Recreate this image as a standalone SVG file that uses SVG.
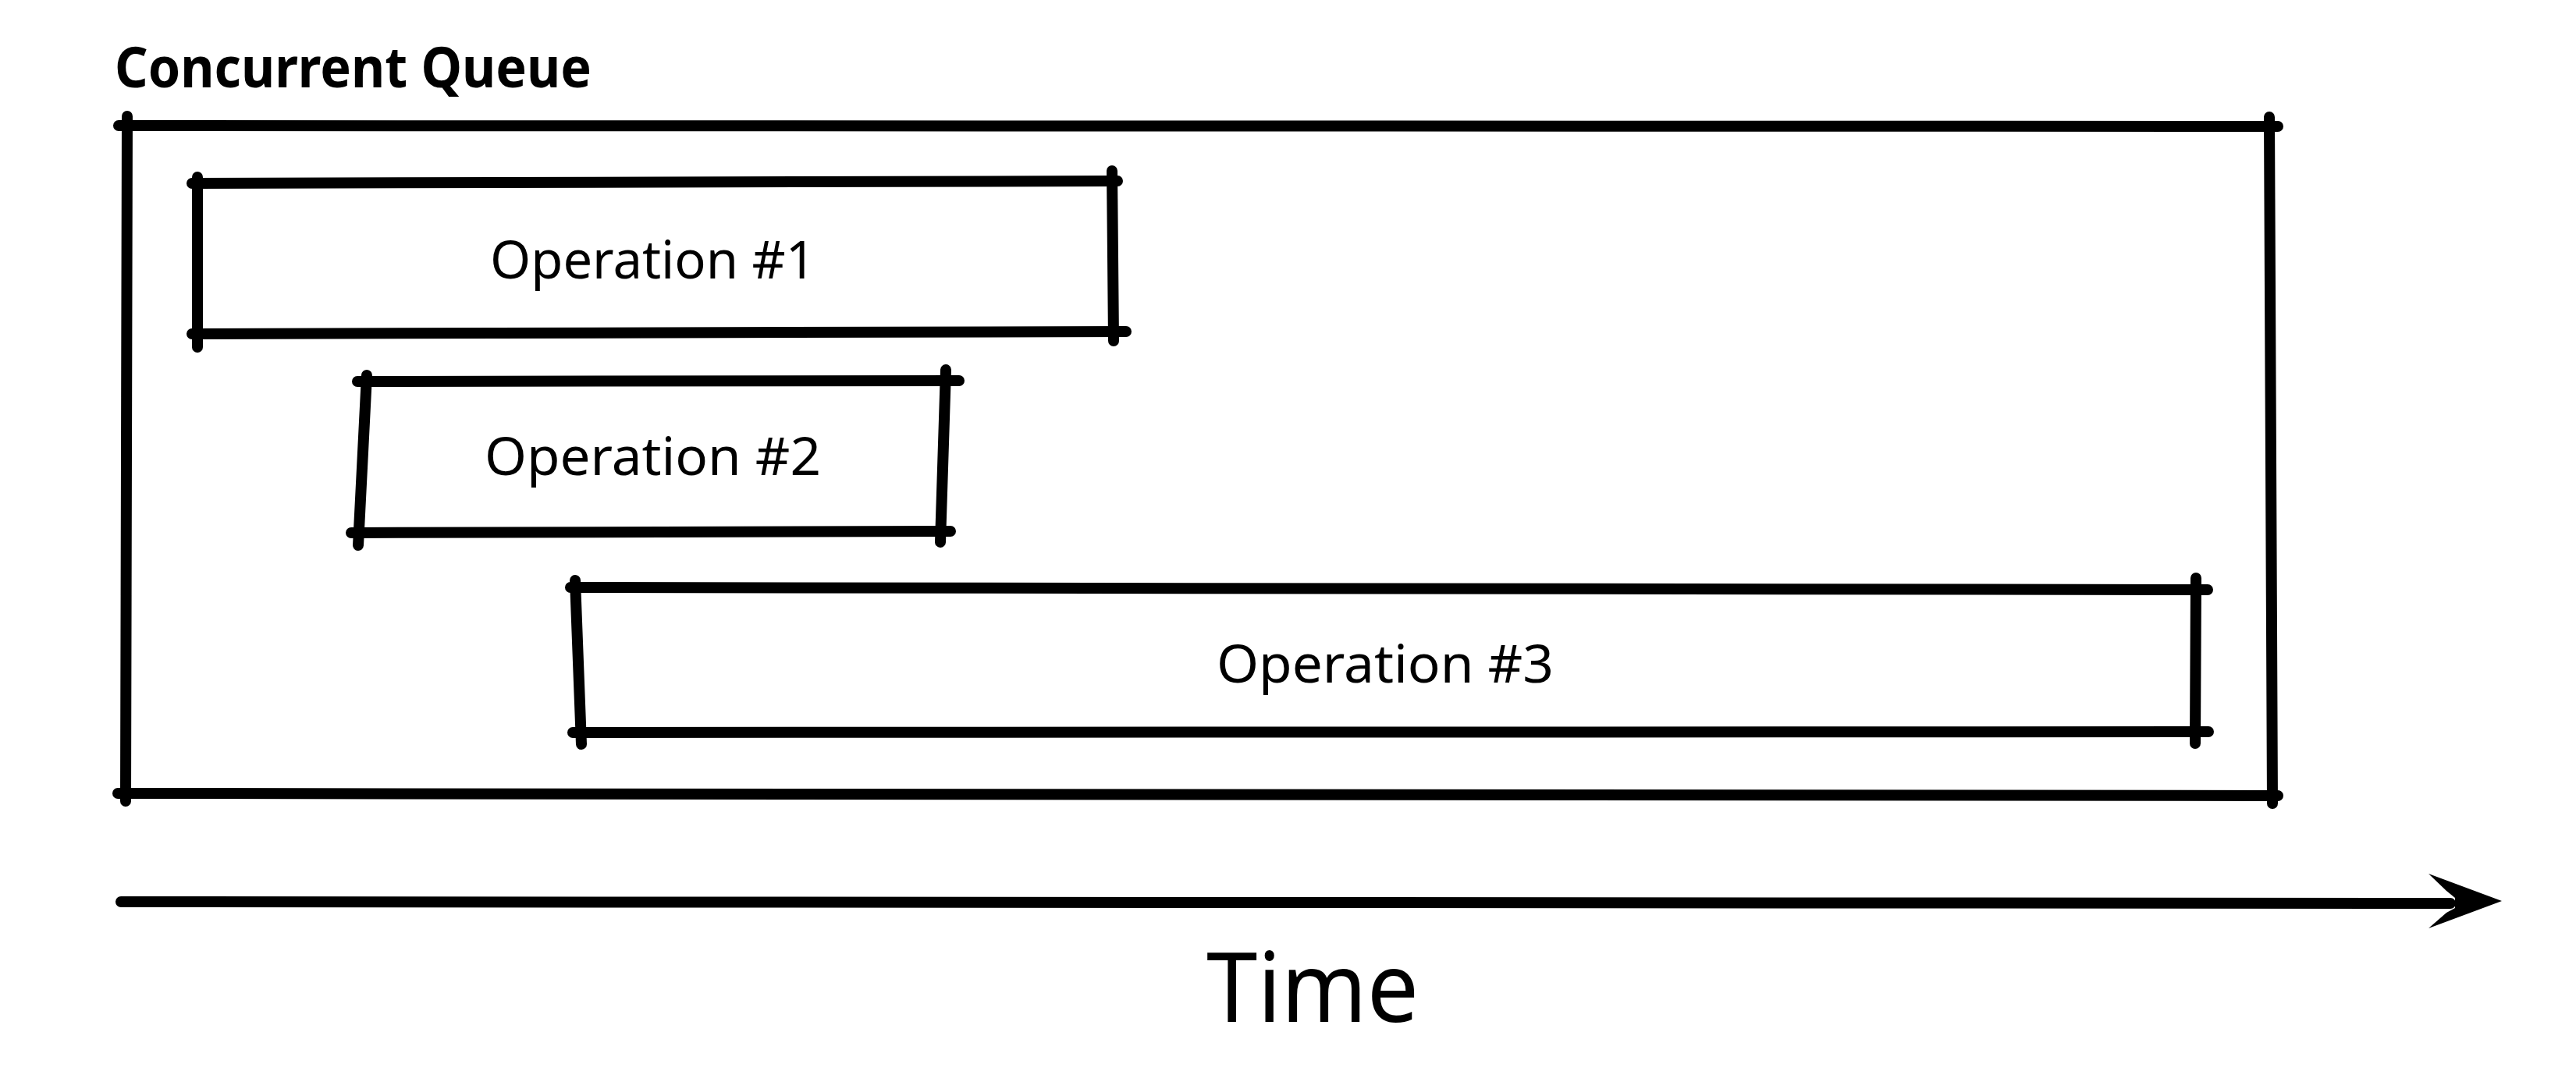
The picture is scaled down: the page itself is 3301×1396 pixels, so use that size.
<svg xmlns="http://www.w3.org/2000/svg" width="3301" height="1396" viewBox="0 0 3301 1396">
  <style>
    .edge { stroke: #000; stroke-width: 14; stroke-linecap: round; fill: none; }
    .label { font-family: "Noto Sans", "DejaVu Sans", sans-serif; fill: #000; }
    .title { font-weight: bold; font-size: 72px; }
    .op { font-size: 68px; }
    .axis { font-size: 124px; }
  </style>
  <rect x="0" y="0" width="3301" height="1396" fill="#fff"/>

  <g id="node-concurrent-queue">
    <line class="edge" x1="152" y1="161" x2="2919" y2="162"/>
    <line class="edge" x1="2908" y1="150" x2="2912" y2="1030"/>
    <line class="edge" x1="151" y1="1017" x2="2919" y2="1020"/>
    <line class="edge" x1="163" y1="149" x2="161" y2="1027"/>
    <text class="label title" x="147" y="112" textLength="611" lengthAdjust="spacingAndGlyphs">Concurrent Queue</text>
  </g>

  <g id="node-op1">
    <line class="edge" x1="246" y1="235" x2="1432" y2="232"/>
    <line class="edge" x1="1425" y1="219" x2="1427" y2="437"/>
    <line class="edge" x1="246" y1="428" x2="1443" y2="425"/>
    <line class="edge" x1="253" y1="227" x2="253" y2="445"/>
    <text class="label op" x="628" y="357" textLength="417" lengthAdjust="spacingAndGlyphs">Operation #1</text>
  </g>

  <g id="node-op2">
    <line class="edge" x1="458" y1="489" x2="1229" y2="488"/>
    <line class="edge" x1="1212" y1="474" x2="1205" y2="695"/>
    <line class="edge" x1="450" y1="683" x2="1218" y2="681"/>
    <line class="edge" x1="470" y1="481" x2="459" y2="699"/>
    <text class="label op" x="621" y="609" textLength="431" lengthAdjust="spacingAndGlyphs">Operation #2</text>
  </g>

  <g id="node-op3">
    <line class="edge" x1="731" y1="753" x2="2829" y2="756"/>
    <line class="edge" x1="2814" y1="741" x2="2813" y2="953"/>
    <line class="edge" x1="734" y1="939" x2="2830" y2="938"/>
    <line class="edge" x1="737" y1="744" x2="745" y2="954"/>
    <text class="label op" x="1559" y="875" textLength="432" lengthAdjust="spacingAndGlyphs">Operation #3</text>
  </g>

  <g id="connectors">
    <line class="edge" x1="155" y1="1156" x2="3140" y2="1158"/>
    <polygon points="3206,1155 3112,1120 3135,1142 3146,1151 3146,1164 3135,1170 3112,1190" fill="#000"/>
  </g>

  <g id="label-time">
    <text class="label axis" x="1546" y="1310" textLength="272" lengthAdjust="spacingAndGlyphs">Time</text>
  </g>
</svg>
